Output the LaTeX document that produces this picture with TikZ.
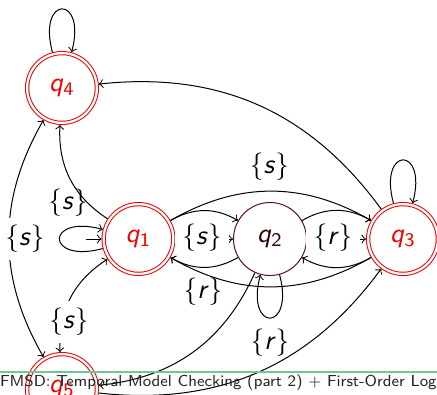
\documentclass[tikz,border=0pt]{standalone}
\usepackage{fontspec}
\usetikzlibrary{arrows}
\definecolor{acceptred}{RGB}{240,0,0}
\definecolor{plainring}{RGB}{95,15,15}
\definecolor{plaintext}{RGB}{45,0,0}
\definecolor{footgreen}{RGB}{110,200,150}
\newcommand{\stname}[1]{\textit{q}\textsubscript{#1}}
\newcommand{\lset}[1]{$\{$\textit{#1}$\}$}
\tikzset{
  acc/.style={circle, draw=acceptred, double, double distance=0.9pt, line width=0.4pt,
    minimum size=27.9pt, inner sep=0pt, outer sep=0.85pt, text=acceptred,
    font=\fontsize{11}{13}\selectfont\sffamily},
  plain/.style={circle, draw=plainring, line width=0.4pt,
    minimum size=29.2pt, inner sep=0pt, text=plaintext,
    font=\fontsize{11}{13}\selectfont\sffamily},
  elabel/.style={fill=white, inner sep=0.3em, font=\fontsize{11}{13}\selectfont\sffamily},
  trans/.style={->, line width=0.4pt},
  both/.style={<->, line width=0.4pt}
}
\begin{document}
\begin{tikzpicture}[x=0.4pt, y=0.4pt]
\useasboundingbox (0,0) rectangle (437,394);
% states
\node[acc]   (q4) at (62,306)   {\stname{4}};
\node[acc]   (q1) at (138.5,155) {\stname{1}};
\node[plain] (q2) at (270,155)   {\stname{2}};
\node[acc]   (q3) at (403,155)   {\stname{3}};
\node[acc]   (q5) at (62,5)      {\stname{5}};
\coordinate (q1start) at (86,155);
% transitions that run under their labels
\draw[trans] (q1start) -- (q1);
\draw[trans] (q1) -- (q2);
\draw[trans] (q2) -- (q3);
\draw[both]  (q4) to[bend right] (q5);
\draw[both]  (q1) to[bend right] (q5);
\draw[trans] (q4) to[loop above] (q4);
\draw[trans] (q1) to[loop left] (q1);
\draw[trans] (q2) to[loop below] (q2);
\draw[trans] (q3) to[loop above] (q3);
% labels
\node[elabel] (l1) at (269.5,227.5) {\lset{s}};
\node[elabel] (l2) at (202,156.5) {\lset{s}};
\node[elabel] (l3) at (333,156.5) {\lset{r}};
\node[elabel] (l4) at (203,102) {\lset{r}};
\node[elabel] (l5) at (270,51) {\lset{r}};
\node[elabel] (l7) at (25,155) {\lset{s}};
\node[elabel] (l8) at (69,72) {\lset{s}};
\node[elabel] (l6) at (68,191) {\lset{s}};
% remaining transitions
\draw[trans] (q1) to[bend left] (q2);
\draw[trans] (q1) to[bend left] (q3);
\draw[trans] (q2) to[bend left] (q1);
\draw[trans] (q3) to[bend left] (q1);
\draw[trans] (q2) to[bend left] (q3);
\draw[trans] (q3) to[bend left] (q2);
\draw[trans] (q3) to[bend right] (q4);
\draw[trans] (q1) to[bend left] (q4);
\draw[trans] (q2) to[bend left] (q5);
\draw[trans] (q5) to[bend right] (q3);
% footer
\draw[footgreen, line width=0.8pt] (0,22) -- (437,22);
\node[anchor=base west, inner sep=0pt, font=\fontsize{6.36}{8}\selectfont\sffamily, text=black!85]
  (foot) at (-0.5,7.3) {FMSD: Temporal Model Checking (part 2) + First-Order Logic};
\end{tikzpicture}
\end{document}
